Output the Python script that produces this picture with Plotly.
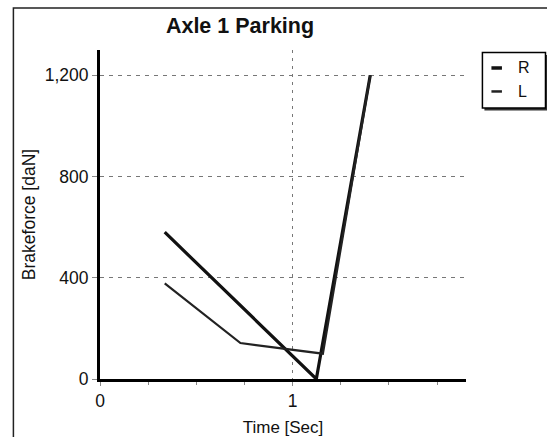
import plotly.graph_objects as go

# ---- data ----
time_R = [0.336, 1.123, 1.403]
force_R = [580, 0, 1200]
time_L = [0.336, 0.729, 1.157, 1.403]
force_L = [378, 142, 100, 1200]
series_names = ["R", "L"]
y_ticks = [0, 400, 800, 1200]
x_ticks = [0, 1]

W, H = 547, 437
L_, R_, T_, B_ = 100, 465.6, 50, 379.3   # plot-area pixel box
pw, ph = R_ - L_, B_ - T_

def px(x):
    return (x - L_) / pw

def py(y):
    return (B_ - y) / ph

FONT = "Liberation Sans, Arial, sans-serif"
colors = ["#111111", "#222222"]
widths = [3.2, 2.2]

fig = go.Figure()
fig.add_trace(go.Scatter(x=time_R, y=force_R, mode="lines", name=series_names[0],
                         line=dict(color=colors[0], width=widths[0]), showlegend=False))
fig.add_trace(go.Scatter(x=time_L, y=force_L, mode="lines", name=series_names[1],
                         line=dict(color=colors[1], width=widths[1]), showlegend=False))

shapes = [
    # outer frame
    dict(type="rect", xref="paper", yref="paper",
         x0=px(13.5), x1=px(W + 10), y0=py(H + 10), y1=py(8),
         line=dict(color="#222", width=1.5), fillcolor="rgba(0,0,0,0)", layer="below"),
    # legend shadow
    dict(type="rect", xref="paper", yref="paper",
         x0=px(484), x1=px(547), y0=py(110.5), y1=py(55),
         line=dict(width=0), fillcolor="#333", layer="above"),
    # legend box
    dict(type="rect", xref="paper", yref="paper",
         x0=px(482), x1=px(545), y0=py(108), y1=py(52.5),
         line=dict(color="black", width=1.5), fillcolor="white", layer="above"),
]
annotations = []
leg_y = [68, 91.5]
for i, name in enumerate(series_names):
    shapes.append(dict(type="line", xref="paper", yref="paper",
                       x0=px(491), x1=px(501.5), y0=py(leg_y[i]), y1=py(leg_y[i]),
                       line=dict(color=colors[i], width=widths[i] + 0.3), layer="above"))
    annotations.append(dict(text=name, xref="paper", yref="paper",
                            x=px(516), y=py(leg_y[i]), xanchor="left", yanchor="middle",
                            showarrow=False, font=dict(size=16, family=FONT, color="#111")))

fig.update_layout(
    width=W, height=H,
    margin=dict(l=L_, r=W - R_, t=T_, b=H - B_, pad=0, autoexpand=False),
    paper_bgcolor="white", plot_bgcolor="white",
    font=dict(family=FONT, size=17, color="#111111"),
    title=dict(text="<b>Axle 1 Parking</b>", x=240 / W, xanchor="center",
               y=1 - 25 / H, yanchor="middle", font=dict(size=21.5, family=FONT, color="#111")),
    showlegend=False,
    shapes=shapes,
    annotations=annotations,
)

fig.update_xaxes(
    range=[0, 1.9], tickvals=x_ticks, ticktext=[str(v) for v in x_ticks],
    showline=True, linecolor="black", linewidth=3, automargin=False,
    showgrid=True, gridcolor="#777", griddash="3px,5px", gridwidth=1,
    zeroline=False, ticks="outside", ticklen=4, tickcolor="#888",
    minor=dict(dtick=0.25, tick0=0, ticks="outside", ticklen=3, tickcolor="#888", showgrid=False),
    title=dict(text="Time [Sec]", standoff=12, font=dict(size=17)),
    tickfont=dict(size=17.5),
)
fig.update_yaxes(
    range=[0, 1300], tickvals=y_ticks, tickformat=",d",
    showline=True, linecolor="black", linewidth=3, automargin=False,
    showgrid=True, gridcolor="#777", griddash="4px,5px", gridwidth=1,
    zeroline=False, ticks="outside", ticklen=5, tickcolor="#888",
    title=dict(text="Brakeforce [daN]", standoff=5, font=dict(size=17.5)),
    tickfont=dict(size=17.5),
)

fig.write_html("out.html", config={"displayModeBar": False},
               post_script="document.body.style.margin='0';document.body.style.overflow='hidden';")
